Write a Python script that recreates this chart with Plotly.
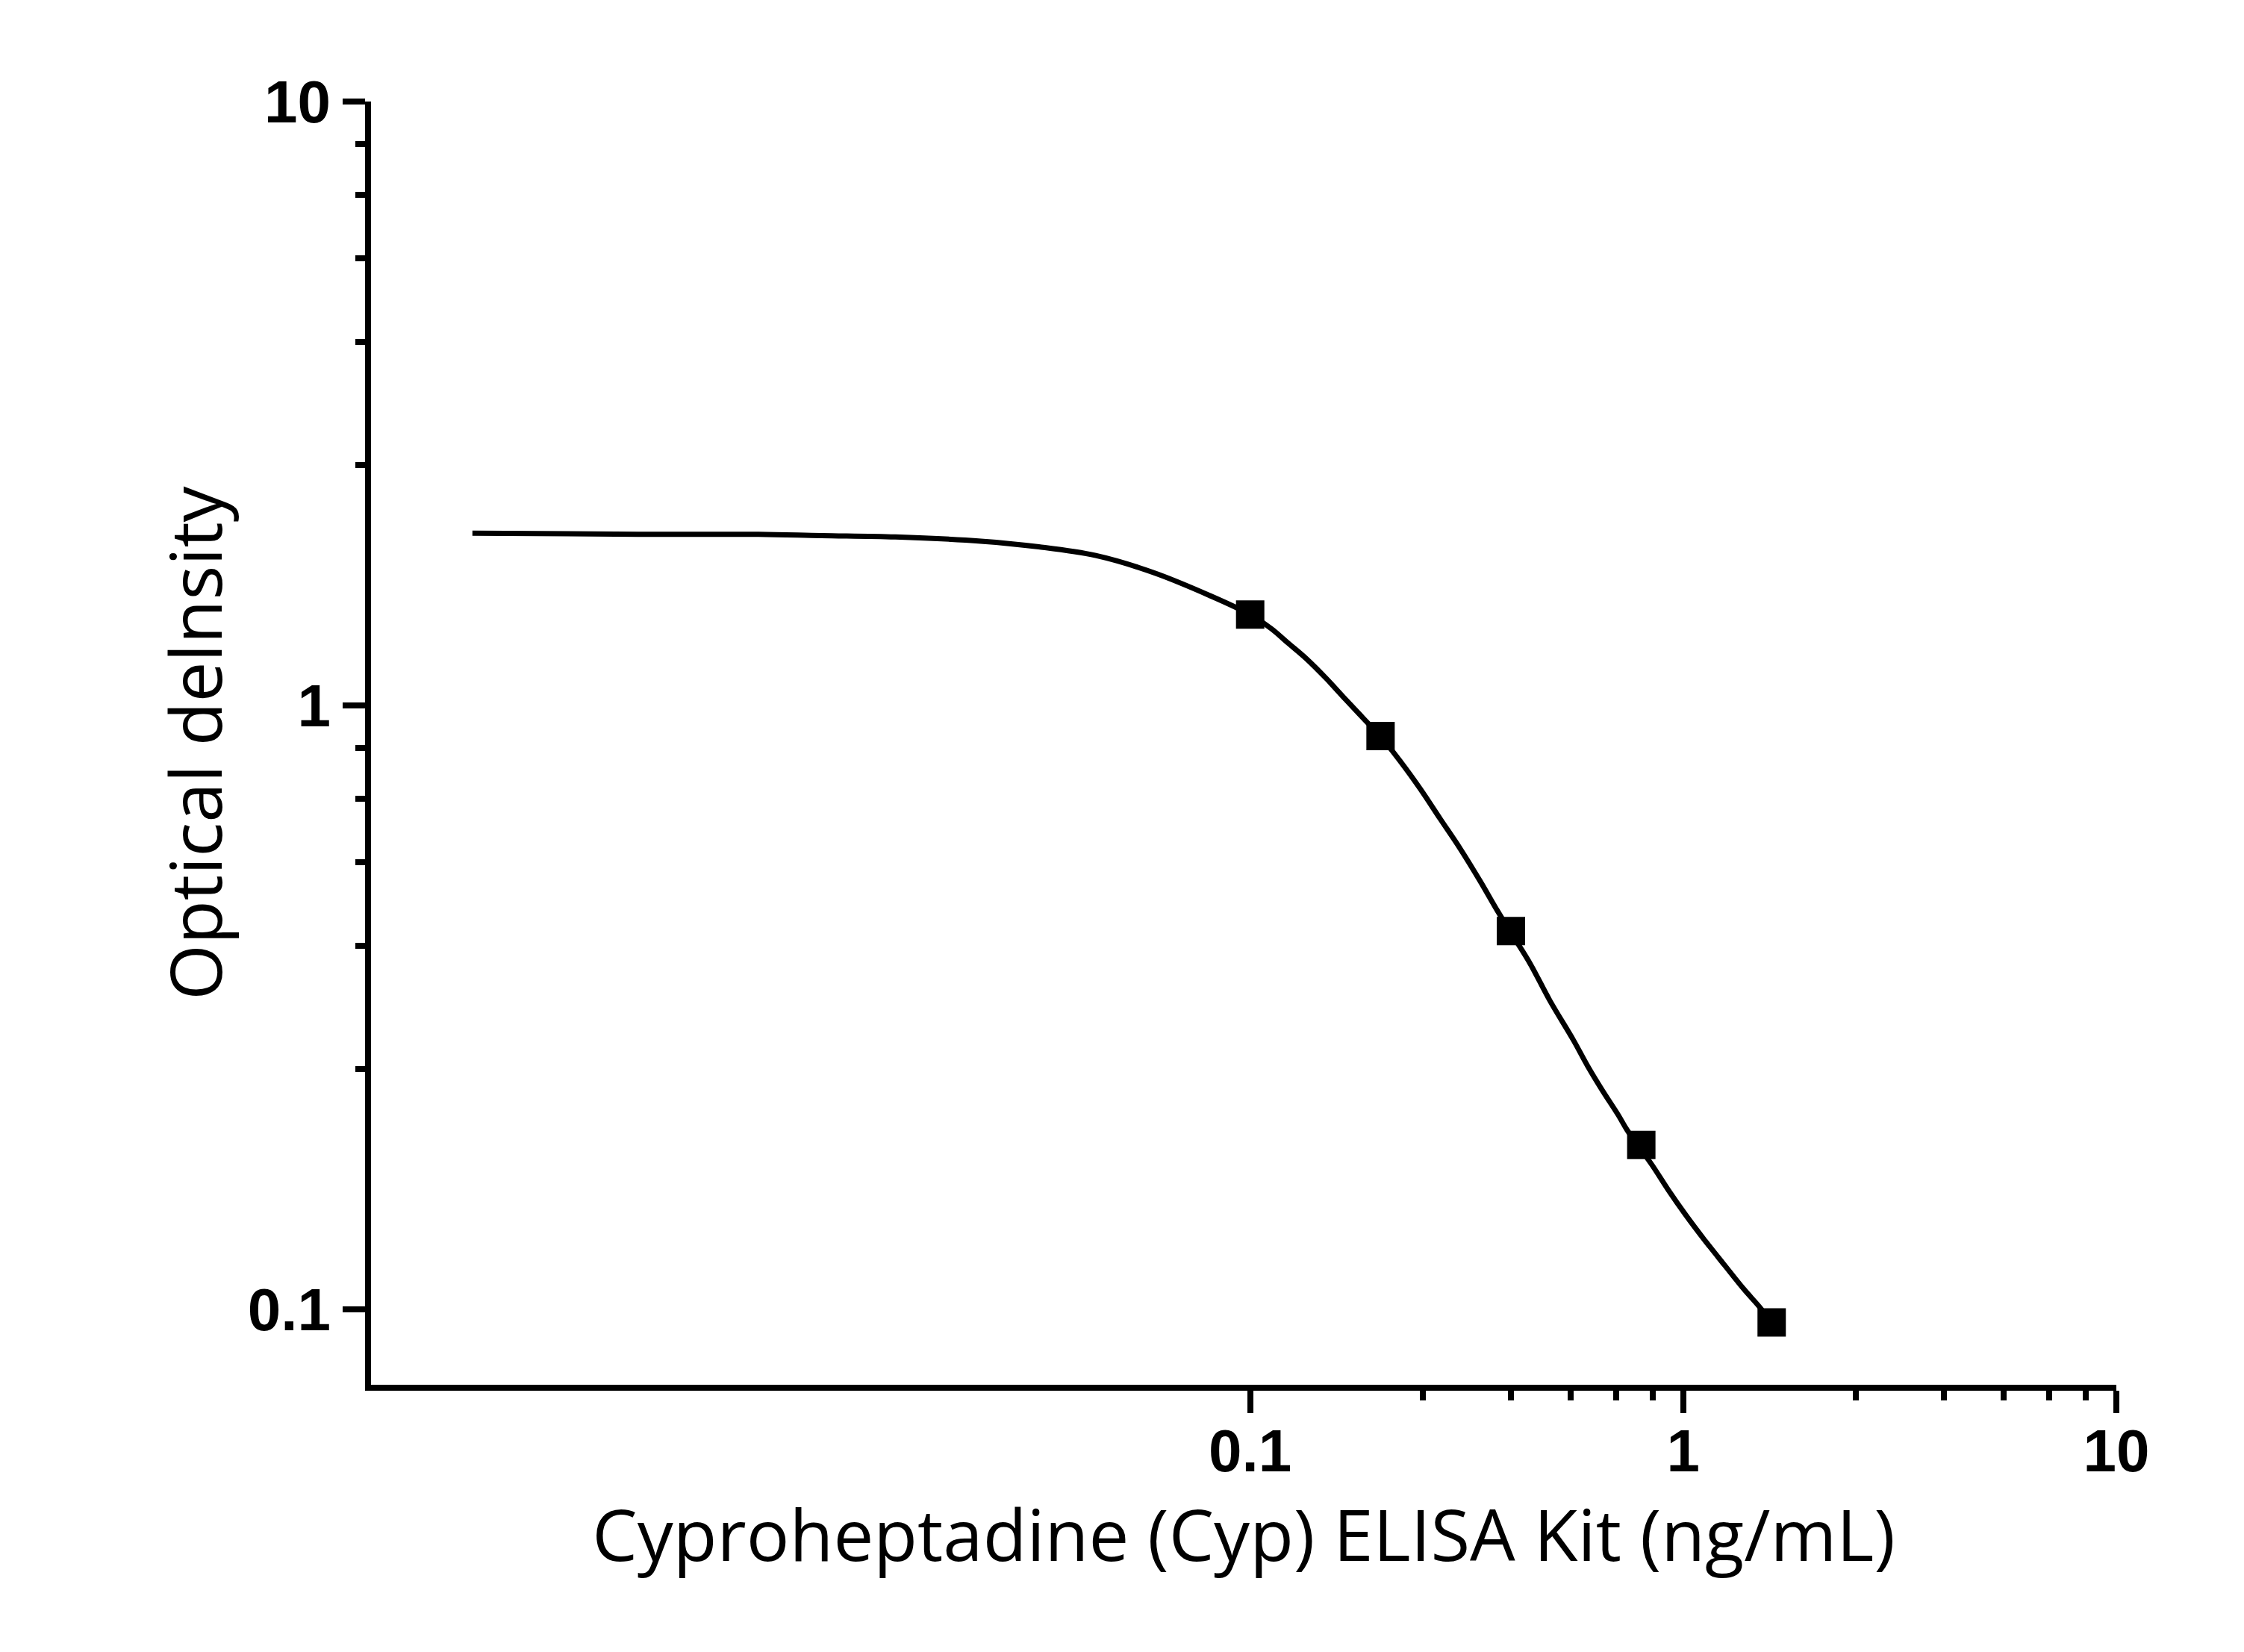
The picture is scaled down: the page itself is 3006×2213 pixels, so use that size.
import plotly.graph_objects as go

# standard points (ng/mL) and measured OD
std_conc = [0.1, 0.2, 0.4, 0.8, 1.6]
std_od = [1.413, 0.889, 0.4225, 0.187, 0.095]

# fitted curve
fit_conc = [0.0016, 0.00387, 0.0071, 0.01023, 0.01516, 0.0239, 0.0325, 0.044,
            0.0596, 0.0806, 0.1, 0.1118, 0.1226, 0.1345, 0.1496, 0.1662, 0.1824,
            0.1995, 0.2225, 0.2472, 0.2748, 0.3056, 0.3397, 0.3726, 0.398,
            0.4426, 0.492, 0.558, 0.6003, 0.6499, 0.7079, 0.7418,
            0.8465, 0.9226, 1.012, 1.118, 1.242, 1.381, 1.515, 1.589]
fit_od = [1.927, 1.92, 1.92, 1.91, 1.90, 1.87, 1.83, 1.77,
          1.66, 1.52, 1.413, 1.34, 1.266, 1.196, 1.109, 1.022, 0.952,
          0.889, 0.8064, 0.7265, 0.648, 0.5784, 0.5113, 0.4562, 0.4225,
          0.3738, 0.3242, 0.2786, 0.2532, 0.2304, 0.2095, 0.1979,
          0.1733, 0.1576, 0.1433, 0.1303, 0.1185, 0.1078, 0.0999, 0.095]

major_ticks = [0.1, 1, 10]
tick_text = ["0.1", "1", "10"]
x_minor = [0.25, 0.4, 0.55, 0.7, 0.85, 2.5, 4, 5.5, 7, 8.5]
y_minor = [0.25, 0.4, 0.55, 0.7, 0.85, 2.5, 4, 5.5, 7, 8.5]

fig = go.Figure()
fig.add_trace(go.Scatter(x=fit_conc, y=fit_od, mode="lines",
                         line=dict(color="black", width=7, shape="spline", smoothing=1.0),
                         showlegend=False))
fig.add_trace(go.Scatter(x=std_conc, y=std_od, mode="markers",
                         marker=dict(symbol="square", size=38, color="black"),
                         showlegend=False))

tick_font = dict(family="Liberation Sans, Arial", size=80, color="black", weight="bold")
title_font = dict(family="Open Sans", size=96, color="black")

fig.update_xaxes(type="log", range=[-3.03, 1.0],
                 showline=True, linecolor="black", linewidth=8,
                 showgrid=False, zeroline=False,
                 ticks="outside", ticklen=30, tickwidth=8, tickcolor="black",
                 tickvals=major_ticks, ticktext=tick_text, tickfont=tick_font,
                 ticklabelstandoff=-18,
                 minor=dict(tickvals=x_minor, ticks="outside", ticklen=13,
                            tickwidth=8, tickcolor="black", showgrid=False),
                 title=dict(text="Cyproheptadine (Cyp) ELISA Kit (ng/mL)",
                            font=title_font, standoff=33))
fig.update_yaxes(type="log", range=[-1.1255, 1.0],
                 showline=True, linecolor="black", linewidth=8,
                 showgrid=False, zeroline=False,
                 ticks="outside", ticklen=30, tickwidth=8, tickcolor="black",
                 tickvals=major_ticks, ticktext=tick_text, tickfont=tick_font,
                 minor=dict(tickvals=y_minor, ticks="outside", ticklen=13,
                            tickwidth=8, tickcolor="black", showgrid=False),
                 title=dict(text="Optical delnsity", font=title_font, standoff=5))

fig.update_layout(width=3006, height=2213,
                  margin=dict(l=497, r=171, t=136, b=358, pad=0),
                  plot_bgcolor="white", paper_bgcolor="white")

fig.write_html("out.html", config={"displayModeBar": False},
               post_script="document.body.style.margin='0';")
